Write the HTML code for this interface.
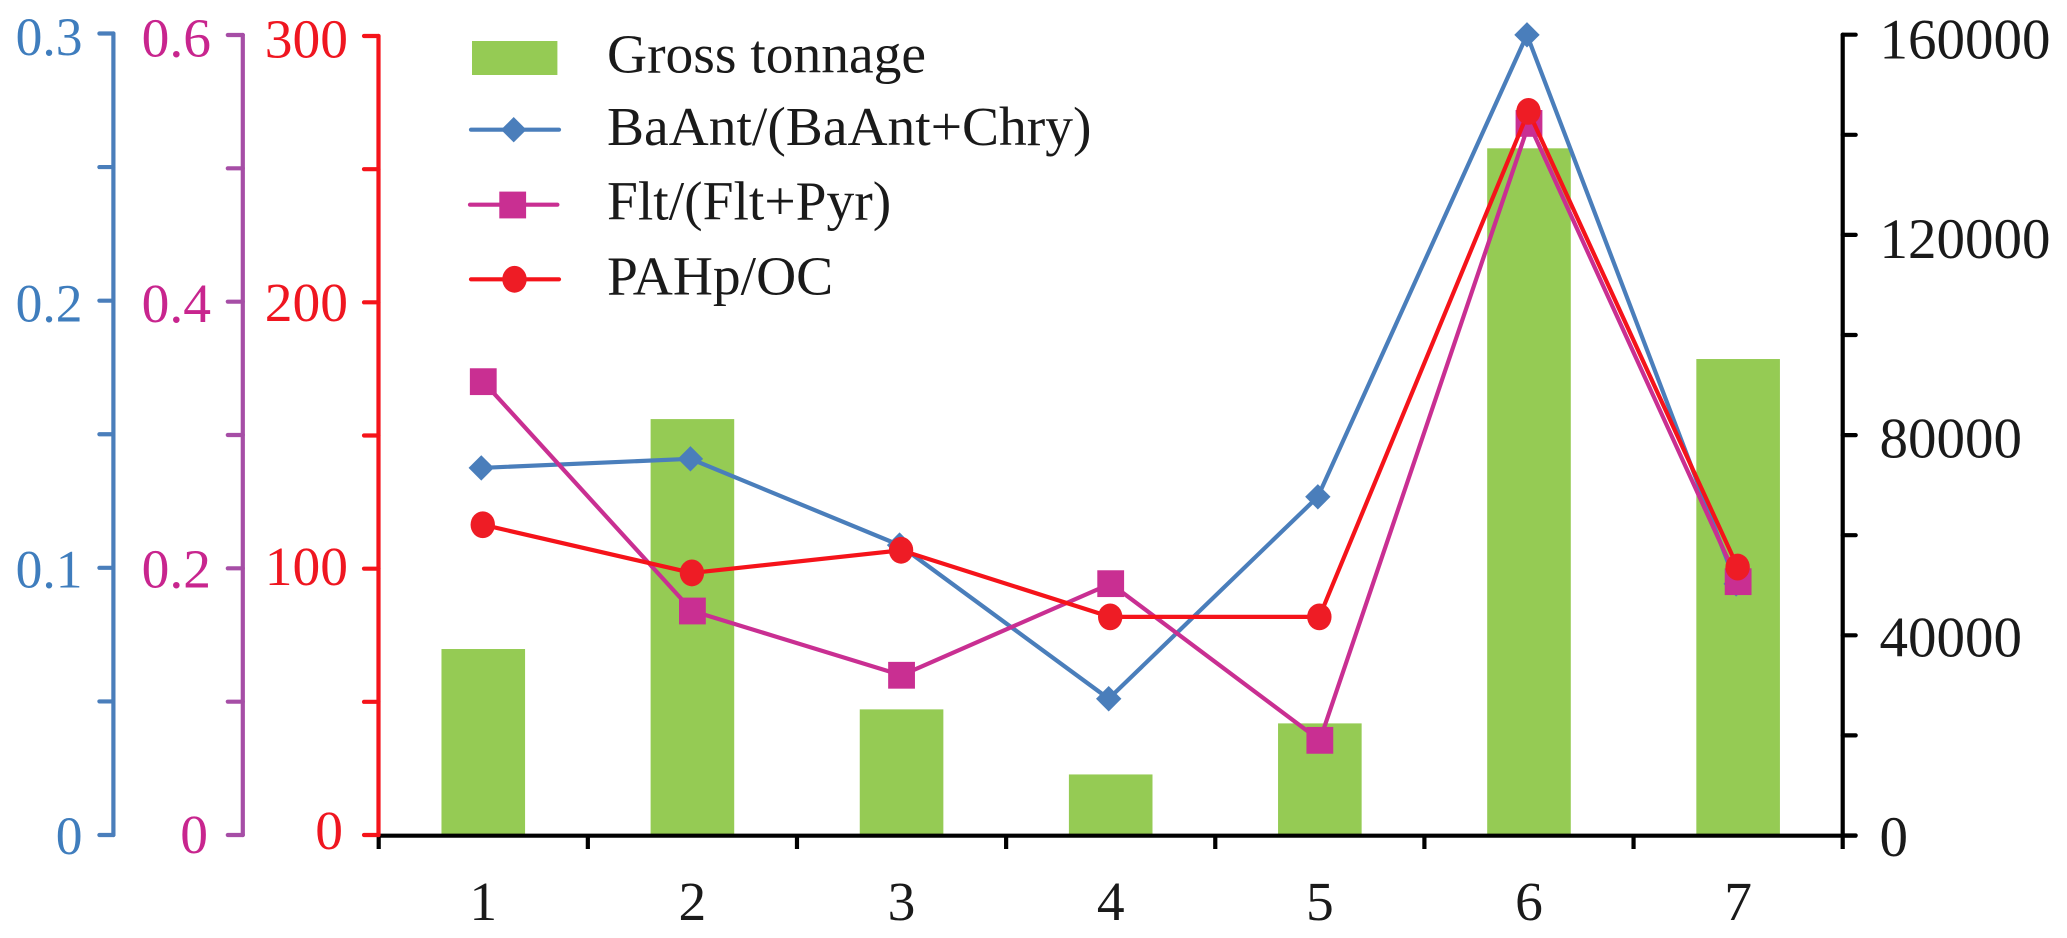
<!DOCTYPE html>
<html lang="en">
<head>
<meta charset="utf-8">
<title>Gross tonnage and PAH ratios</title>
<style>
html,body{margin:0;padding:0;background:#fff;}
svg{display:block;}
text{font-family:"Liberation Serif","DejaVu Serif",serif;}
</style>
</head>
<body>
<svg id="chart" xmlns="http://www.w3.org/2000/svg" width="2067" height="938" viewBox="0 0 2067 938"></svg>
<script>
const categories = ["1", "2", "3", "4", "5", "6", "7"];
const grossTonnage = [37260, 83200, 25200, 12200, 22400, 137300, 95200];
const baAntRatio = [0.1374, 0.1408, 0.1085, 0.051, 0.1266, 0.2995, 0.094];
const fltRatio = [0.34, 0.168, 0.1198, 0.1885, 0.071, 0.5337, 0.19];
const pahpOc = [116.5, 98.4, 106.9, 81.9, 81.9, 271.7, 100.6];
const blueTicks = [0, 0.05, 0.1, 0.15, 0.2, 0.25, 0.3];
const blueLabels = ["0", "0.1", "0.2", "0.3"];
const purpleTicks = [0, 0.1, 0.2, 0.3, 0.4, 0.5, 0.6];
const purpleLabels = ["0", "0.2", "0.4", "0.6"];
const redTicks = [0, 50, 100, 150, 200, 250, 300];
const redLabels = ["0", "100", "200", "300"];
const rightTicks = [0, 20000, 40000, 60000, 80000, 100000, 120000, 140000, 160000];
const rightLabels = ["0", "40000", "80000", "120000", "160000"];

const svg = document.getElementById('chart');
const NS = 'http://www.w3.org/2000/svg';
const FONT = 55.5;
const AXIS_W = 4.2, LINE_W = 4.2;
const BLUE = '#4a7ebb', PINK = '#c92f92', PURPLE = '#a64ea6', RED = '#f5131a', REDDOT = '#ee1c25', GREEN = '#95cb54', INK = '#1a1a1a';

function make(tag, attrs, parent, txt) {
  const e = document.createElementNS(NS, tag);
  for (const k in attrs) e.setAttribute(k, attrs[k]);
  if (txt !== undefined) e.textContent = txt;
  (parent || svg).appendChild(e);
  return e;
}

const plotLeft = 378.7, plotRight = 1842.7;
const band = (plotRight - plotLeft) / categories.length;
const xCenter = i => plotLeft + band * (i + 0.5);
const scale = (max, top, bottom) => v => bottom - (v / max) * (bottom - top);
const yBlue = scale(0.3, 33.5, 835);
const yPurple = scale(0.6, 35, 835);
const yRed = scale(300, 36, 835);
const yRight = scale(160000, 34.7, 835.5);

/* bars */
grossTonnage.forEach((v, i) => {
  const b = make('rect', {x: xCenter(i) - 41.8, y: yRight(v), width: 83.6, height: 835.5 - yRight(v), fill: GREEN});
  
  
});

/* x axis */
const xAxis = make('g', {stroke: '#000', 'stroke-width': AXIS_W, fill: 'none'});


make('line', {x1: plotLeft, x2: plotRight + 14, y1: 835.7, y2: 835.7}, xAxis);
for (let i = 0; i <= categories.length; i++) {
  make('line', {x1: plotLeft + band * i, x2: plotLeft + band * i, y1: 835.5, y2: 849}, xAxis);
}
categories.forEach((c, i) => {
  const t = make('text', {x: xCenter(i), y: 920, 'font-size': 55.5, 'text-anchor': 'middle', fill: INK}, svg, c);
  
  
});

/* vertical axes */
function drawAxis(name, color, textColor, axisX, tickDir, tickLen, ticks, labels, y, labelX, labelAnchor, labelTop, labelBottom, zeroDx, fontSize) {
  const g = make('g', {stroke: color, 'stroke-width': AXIS_W, 'stroke-linecap': 'round', fill: 'none'});
  
  
  const maxV = ticks[ticks.length - 1];
  make('line', {x1: axisX, x2: axisX, y1: y(maxV), y2: y(0)}, g);
  ticks.forEach(v => {
    make('line', {x1: axisX, x2: axisX + tickDir * tickLen, y1: y(v), y2: y(v)}, g);
  });
  labels.forEach(s => {
    const v = parseFloat(s);
    const ly = labelBottom - (v / maxV) * (labelBottom - labelTop);
    const lx = v === 0 ? labelX + zeroDx : labelX;
    const t = make('text', {x: lx, y: ly, 'font-size': fontSize, 'text-anchor': labelAnchor, fill: textColor}, svg, s);
    
    
  });
}
drawAxis('blue-ratio-axis', BLUE, '#3f7dbd', 113.4, -1, 14, blueTicks, blueLabels, yBlue, 82.5, 'end', 55, 854, 0, 53.5);
drawAxis('purple-ratio-axis', PURPLE, '#c8258e', 242.8, -1, 15, purpleTicks, purpleLabels, yPurple, 211, 'end', 56.7, 853, -3, FONT);
drawAxis('red-ratio-axis', RED, '#ef1620', 378.5, -1, 14.5, redTicks, redLabels, yRed, 348, 'end', 57.3, 849, -5, FONT);
drawAxis('gross-tonnage-axis', '#000', INK, plotRight, 1, 13, rightTicks, rightLabels, yRight, 1879.5, 'start', 58.7, 856, 0, 57);

/* series */
function polyline(values, y, dx, color, name) {
  const pts = values.map((v, i) => (xCenter(i) + dx) + ',' + y(v)).join(' ');
  const p = make('polyline', {points: pts, fill: 'none', stroke: color, 'stroke-width': LINE_W, 'stroke-linejoin': 'round'});
  
  
}
function diamondAt(x, y, parent) {
  return make('polygon', {points: `${x},${y - 12.7} ${x + 12.7},${y} ${x},${y + 12.7} ${x - 12.7},${y}`, fill: BLUE}, parent);
}
function squareAt(x, y, parent) {
  return make('rect', {x: x - 13.4, y: y - 13.4, width: 26.8, height: 26.8, fill: '#c92f92'}, parent);
}
function dotAt(x, y, parent) {
  return make('ellipse', {cx: x, cy: y, rx: 12.2, ry: 13.4, fill: REDDOT}, parent);
}

polyline(baAntRatio, yBlue, -2, BLUE, 'baant-ratio-line');
baAntRatio.forEach((v, i) => {
  const m = diamondAt(xCenter(i) - 2, yBlue(v));
  
  
});
polyline(fltRatio, yPurple, 0, PINK, 'flt-ratio-line');
fltRatio.forEach((v, i) => {
  const m = squareAt(xCenter(i), yPurple(v));
  
  
});
polyline(pahpOc, yRed, -0.5, RED, 'pahp-oc-line');
pahpOc.forEach((v, i) => {
  const m = dotAt(xCenter(i) - 0.5, yRed(v));
  
  
});

/* legend */
const legend = make('g', {});



const swatch = make('rect', {x: 472, y: 41, width: 85.4, height: 34, fill: GREEN}, legend);



const keyBlue = make('line', {x1: 471, x2: 559, y1: 129.7, y2: 129.7, stroke: BLUE, 'stroke-width': LINE_W, 'stroke-linecap': 'round'}, legend);


const keyDiamond = diamondAt(513.7, 129.7, legend);



const keyPink = make('line', {x1: 470, x2: 557.4, y1: 204.7, y2: 204.7, stroke: PINK, 'stroke-width': LINE_W, 'stroke-linecap': 'round'}, legend);


const keySquare = squareAt(512.7, 205, legend);



const keyRed = make('line', {x1: 471, x2: 559, y1: 279.3, y2: 279.3, stroke: RED, 'stroke-width': LINE_W, 'stroke-linecap': 'round'}, legend);


const keyDot = dotAt(514.5, 279.3, legend);



const legendEntries = ["Gross tonnage", "BaAnt/(BaAnt+Chry)", "Flt/(Flt+Pyr)", "PAHp/OC"];
const legendBaselines = [72.7, 145, 219.3, 294.3];
legendEntries.forEach((s, i) => {
  const t = make('text', {x: 607, y: legendBaselines[i], 'font-size': FONT, fill: INK}, legend, s);
  
  
});
</script>
</body>
</html>
